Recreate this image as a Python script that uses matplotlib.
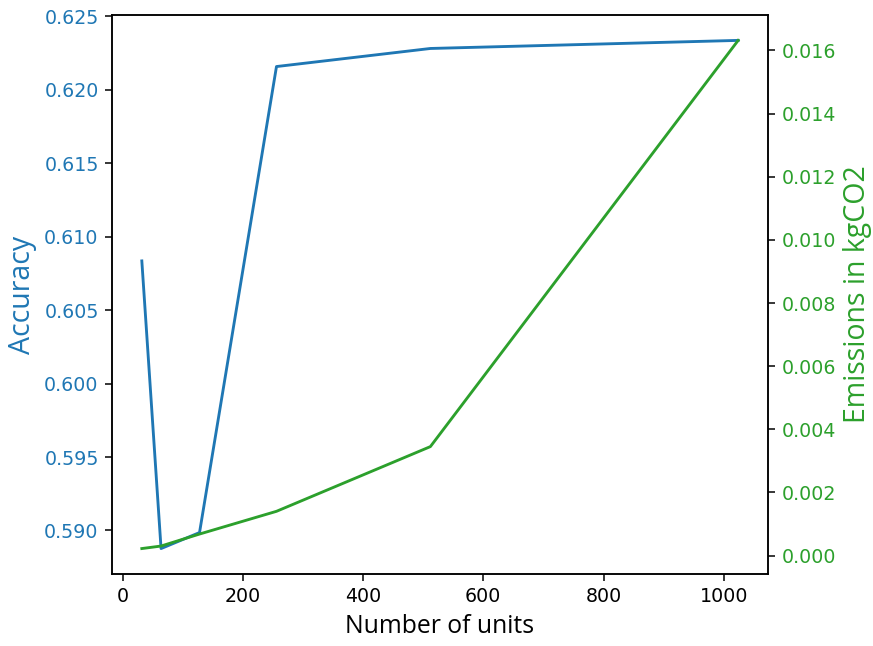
import matplotlib
matplotlib.use('Agg')
import matplotlib.pyplot as plt

units = [32, 64, 128, 256, 512, 1024]
accuracy = [0.60835, 0.58877, 0.58986, 0.62158, 0.62281, 0.62336]
emissions = [0.00022, 0.00030, 0.00068, 0.00140, 0.00345, 0.01632]

acc_color = 'tab:blue'
em_color = 'tab:green'
label_font = 'Open Sans'

dpi = 137
fig, ax1 = plt.subplots(figsize=(873 / dpi, 646 / dpi), dpi=dpi)
fig.subplots_adjust(left=0.1283, right=0.8797, top=0.9768, bottom=0.1115)

ax1.plot(units, accuracy, color=acc_color)
ax1.set_xlabel('Number of units', fontsize=13, family=label_font)
ax1.set_ylabel('Accuracy', color=acc_color, fontsize=15, family=label_font)
ax1.tick_params(axis='y', labelcolor=acc_color)

ax2 = ax1.twinx()
ax2.plot(units, emissions, color=em_color)
ax2.set_ylabel('Emissions in kgCO2', color=em_color, fontsize=15, family=label_font)
ax2.tick_params(axis='y', labelcolor=em_color)

fig.savefig('out.png', dpi=dpi)
